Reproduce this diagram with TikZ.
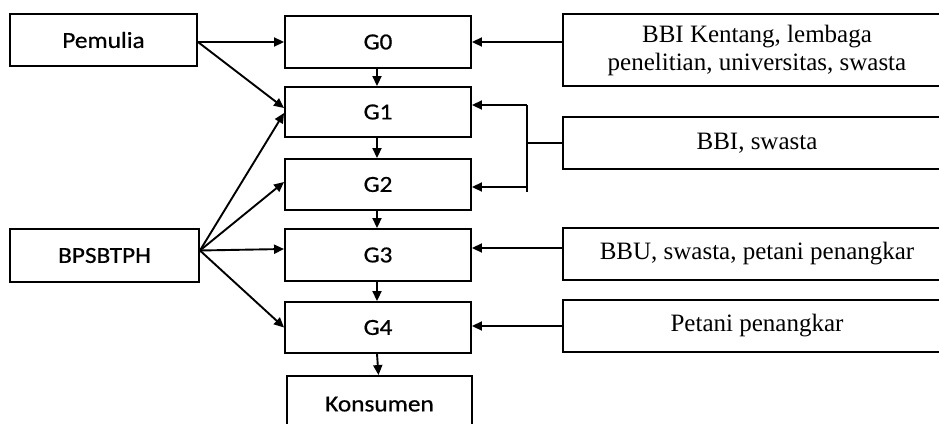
\documentclass[tikz,border=0pt]{standalone}
\usepackage{fontspec}
\setmainfont{Liberation Serif}
\newfontfamily\sansf[FakeStretch=1.1,FakeBold=0.6]{Carlito}
\usetikzlibrary{arrows.meta,calc}
\begin{document}
\begin{tikzpicture}[x=1pt,y=-1pt,
  lbox/.style={draw,line width=1.9pt,inner sep=0pt,font=\sansf\fontsize{23}{27}\selectfont,minimum width=187pt,minimum height=52pt},
  gbox/.style={draw,line width=1.9pt,inner sep=0pt,font=\sansf\fontsize{23}{27}\selectfont,minimum width=186pt,minimum height=51pt},
  rbox/.style={draw,line width=1.9pt,inner sep=0pt,align=center,font=\fontsize{25}{28}\selectfont,minimum width=388pt,minimum height=52pt},
  conn/.style={line width=1.9pt},
  arr/.style={line width=1.9pt,-{Triangle[length=10pt,width=9pt]}}]
\useasboundingbox (0,0) rectangle (939,423);
\clip (0,0) rectangle (939,423);
% left sources
\node[lbox] (pem) at (103.5,40) {Pemulia};
\node[lbox,minimum width=189pt,minimum height=53pt] (bps) at (104.5,255.5) {BPSBTPH};
% G column
\node[gbox,minimum height=52pt] (g0) at (378,42) {G0};
\node[gbox,minimum height=50pt] (g1) at (378,112) {G1};
\node[gbox] (g2) at (378,184.5) {G2};
\node[gbox,minimum height=52pt] (g3) at (378,255) {G3};
\node[gbox] (g4) at (378,327.5) {G4};
\node[gbox,minimum width=185pt,minimum height=56pt,text depth=0pt] (kon) at (379.5,404) {Konsumen};
% right sources
\node[rbox,minimum height=72pt] (bbik) at (757,50) {BBI Kentang, lembaga\\penelitian, universitas, swasta};
\node[rbox] (bbis) at (757,143) {BBI, swasta};
\node[rbox] (bbu) at (757,254) {BBU, swasta, petani penangkar};
\node[rbox] (pet) at (757,326) {Petani penangkar};
% coordinates
\coordinate (pm) at (pem.east |- g0.west);
\coordinate (bp) at ([yshift=5pt]bps.east);
\coordinate (brt) at (527,105);
\coordinate (brb) at (527,192);
\coordinate (brm) at (527,143);
% left connectors
\draw[arr] (pm) -- (g0.west);
\draw[arr] (pm) -- ([yshift=4pt]g1.west);
\draw[arr] (bp) -- ([yshift=-1pt]g1.west);
\draw[arr] (bp) -- ([yshift=2.5pt]g2.west);
\draw[arr] (bp) -- ([yshift=6pt]g3.west);
\draw[arr] (bp) -- (g4.west);
% vertical chain
\draw[arr] ([xshift=-1pt]g0.south) -- ([xshift=-1pt]g1.north);
\draw[arr] ([xshift=-1pt]g1.south) -- ([xshift=-1pt]g2.north);
\draw[arr] ([xshift=-1pt]g2.south) -- ([xshift=-1pt]g3.north);
\draw[arr] ([xshift=-1pt]g3.south) -- ([xshift=-1pt]g4.north);
\draw[arr] ([xshift=-1pt]g4.south) -- ([xshift=-1pt]kon.north);
% right connectors
\draw[arr] (bbik.west |- g0.east) -- (g0.east);
\draw[conn] (bbis.west) -- (brm);
\draw[conn] (brt) -- (brb);
\draw[arr] (brt) -- (g1.east |- brt);
\draw[arr] (527,187) -- ([yshift=-2.5pt]g2.east);
\draw[arr] (bbu.west |- 0,248) -- (g3.east |- 0,248);
\draw[arr] (pet.west) -- (g4.east |- pet.west);
\end{tikzpicture}
\end{document}
